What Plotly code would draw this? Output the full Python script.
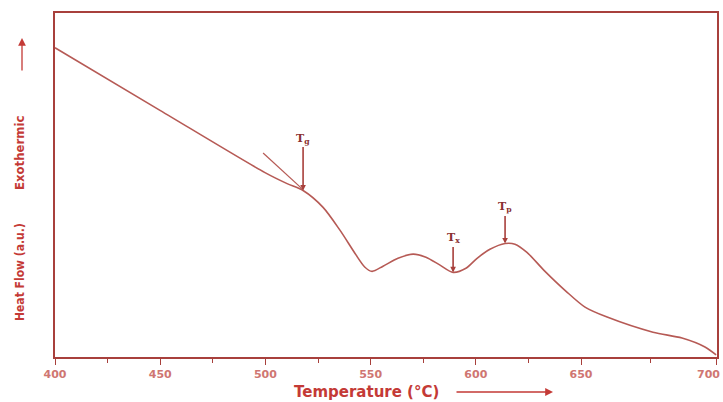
import plotly.graph_objects as go

# Data
temperature = [400, 449.9, 499.8, 510.3, 517.9, 527.4, 535.5, 542.6, 547.3, 550.7, 555.9, 563.0,
               570.2, 576.3, 583.0, 589.2, 595.3, 600.6, 606.7, 613.9, 618.6, 624.3, 632.4, 642.9,
               651.9, 662.4, 684.2, 698.0, 708.9, 714.2]
heat_flow = [89.9, 71.7, 53.6, 50.4, 48.4, 43.5, 36.8, 30.1, 26.1, 24.9, 26.4, 28.7, 29.9, 29.0,
             26.7, 24.6, 25.8, 28.7, 31.3, 33.0, 32.8, 30.4, 25.2, 19.1, 14.5, 11.6, 7.2, 5.5, 2.9, 0.6]
tangent_t = [498.9, 518.0]
tangent_y = [59.3, 48.6]
marker_names = ["T<sub>g</sub>", "T<sub>x</sub>", "T<sub>p</sub>"]
marker_t = [517.9, 589.2, 613.9]
marker_y = [48.4, 24.6, 33.0]
marker_offset = [-52, -34, -36]
# tick positions as drawn in the reference (last interval is stretched there)
tick_values = [400, 450, 500, 550, 600, 650, 714.6]
tick_labels = ["400", "450", "500", "550", "600", "650", "700"]
minor_values = [425, 475, 525, 575, 625, 683]

curve_color = "#b65a55"
axis_color = "#a8403c"
text_color = "#c43a36"
tick_color = "#cf7672"
font_family = "DejaVu Sans Condensed, DejaVu Sans, Arial"

FW, FH = 723, 402
L, R, T, B = 55, 6, 13, 45
W = FW - L - R
H = FH - T - B


def px(xp):
    return (xp - L) / W


def py(yp):
    return (FH - B - yp) / H


fig = go.Figure()
fig.add_trace(go.Scatter(x=temperature, y=heat_flow, mode="lines",
                         line=dict(color=curve_color, width=1.6, shape="spline", smoothing=0.8),
                         hoverinfo="skip", showlegend=False))
fig.add_trace(go.Scatter(x=tangent_t, y=tangent_y, mode="lines",
                         line=dict(color=curve_color, width=1.2),
                         hoverinfo="skip", showlegend=False))

for name, t, y, off in zip(marker_names, marker_t, marker_y, marker_offset):
    fig.add_annotation(x=t, y=y, xref="x", yref="y", text="<b>" + name + "</b>", showarrow=True,
                       ax=0, ay=off, arrowhead=2, arrowsize=0.7, arrowwidth=1.6,
                       arrowcolor=axis_color, standoff=0,
                       font=dict(family="DejaVu Serif, serif", size=11, color="#8a3030"))

# last tick label kept inside the page (it sits on the right edge)
fig.add_annotation(x=px(722), y=py(374), xref="paper", yref="paper",
                   xanchor="right", yanchor="middle", showarrow=False,
                   text="<b>%s</b>" % tick_labels[-1],
                   font=dict(family="DejaVu Sans, Arial", size=11, color=tick_color))

# X axis title with arrow
fig.add_annotation(x=px(366), y=py(392), xref="paper", yref="paper",
                   xanchor="center", yanchor="middle",
                   text="<b>Temperature (°C)</b>", showarrow=False,
                   font=dict(family="DejaVu Sans, Arial", size=15, color=text_color))
fig.add_annotation(x=px(553), y=py(392), xref="paper", yref="paper",
                   text="", showarrow=True, ax=-98, ay=0, arrowhead=2, arrowsize=1.2,
                   arrowwidth=1.3, arrowcolor=text_color, standoff=0)

# Y axis titles with arrow
fig.add_annotation(x=px(20), y=py(153), xref="paper", yref="paper",
                   xanchor="center", yanchor="middle",
                   text="<b>Exothermic</b>", textangle=-90, showarrow=False,
                   font=dict(family=font_family, size=13, color=text_color))
fig.add_annotation(x=px(20), y=py(272), xref="paper", yref="paper",
                   xanchor="center", yanchor="middle",
                   text="<b>Heat Flow (a.u.)</b>", textangle=-90, showarrow=False,
                   font=dict(family=font_family, size=12, color=text_color))
fig.add_annotation(x=px(22), y=py(38), xref="paper", yref="paper",
                   text="", showarrow=True, ax=0, ay=34, arrowhead=2, arrowsize=1.2,
                   arrowwidth=1.3, arrowcolor=text_color, standoff=0)

fig.update_layout(
    width=FW, height=FH,
    margin=dict(l=L, r=R, t=T, b=B, autoexpand=False),
    paper_bgcolor="white", plot_bgcolor="white",
    showlegend=False,
    xaxis=dict(range=[400, 714.62], tickvals=tick_values,
               ticktext=["<b>%s</b>" % s for s in tick_labels[:-1]] + [""],
               ticklabeloverflow="allow", automargin=False,
               showgrid=False, zeroline=False, showline=True, linecolor=axis_color, linewidth=2,
               mirror=True, ticks="outside", ticklen=6, tickwidth=1.2, tickcolor=axis_color,
               minor=dict(tickvals=minor_values, ticks="outside", ticklen=4,
                          tickcolor=axis_color, tickwidth=1),
               tickfont=dict(family="DejaVu Sans, Arial", size=11, color=tick_color)),
    yaxis=dict(range=[0, 100], showticklabels=False, showgrid=False, zeroline=False,
               showline=True, linecolor=axis_color, linewidth=2, mirror=True, ticks=""),
)

fig.write_html("out.html", config={"displayModeBar": False},
               post_script="document.body.style.margin='0';")
